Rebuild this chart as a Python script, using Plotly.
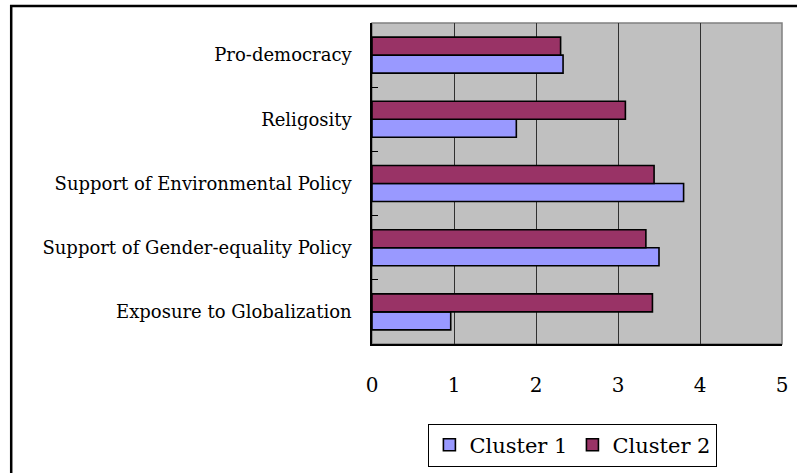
import plotly.graph_objects as go

categories = ["Exposure to Globalization", "Support of Gender-equality Policy",
              "Support of Environmental Policy", "Religosity", "Pro-democracy"]
cluster1 = [0.96, 3.50, 3.80, 1.76, 2.33]
cluster2 = [3.42, 3.34, 3.44, 3.09, 2.30]
x_ticks = [0, 1, 2, 3, 4, 5]

FONT = "DejaVu Serif"

fig = go.Figure()
fig.add_trace(go.Bar(y=categories, x=cluster1, name="Cluster 1", orientation="h",
                     marker=dict(color="#9999FF", line=dict(color="#000000", width=1.6))))
fig.add_trace(go.Bar(y=categories, x=cluster2, name="Cluster 2", orientation="h",
                     marker=dict(color="#993366", line=dict(color="#000000", width=1.6))))

fig.update_layout(
    width=797, height=473,
    margin=dict(l=372, r=15, t=23, b=129, autoexpand=False),
    paper_bgcolor="white", plot_bgcolor="#C0C0C0",
    barmode="group", bargap=0.44, bargroupgap=0,
    font=dict(family=FONT, color="black"),
    showlegend=True,
    legend=dict(orientation="h", x=0.49, xanchor="center", y=-0.315, yanchor="middle",
                bgcolor="white", bordercolor="black", borderwidth=1,
                font=dict(family=FONT, size=21), itemwidth=30, traceorder="normal"),
    xaxis=dict(range=[0, 5], tickvals=x_ticks, ticktext=[str(v) for v in x_ticks],
               showgrid=True, gridcolor="#303030", gridwidth=1,
               showline=True, linecolor="black", linewidth=1.5,
               ticks="", ticklabelstandoff=22, tickfont=dict(size=20, family=FONT),
               zeroline=False, fixedrange=True, automargin=False),
    yaxis=dict(categoryorder="array", categoryarray=categories,
               showline=True, linecolor="black", linewidth=1.5,
               ticks="inside", tickson="boundaries", ticklen=6, tickcolor="black",
               ticklabelstandoff=15, tickfont=dict(size=18, family=FONT),
               showgrid=False, fixedrange=True, automargin=False),
    shapes=[
        dict(type="rect", xref="paper", yref="paper", x0=0, x1=1, y0=0, y1=1,
             line=dict(color="#808080", width=1.5), layer="below"),
        dict(type="rect", xref="paper", yref="paper", x0=-0.88, x1=1.2, y0=-0.6, y1=1.053,
             line=dict(color="black", width=2.5)),
    ],
)

fig.write_html("out.html", config={"displayModeBar": False},
               post_script="document.body.style.margin='0';document.body.style.overflow='hidden';")
